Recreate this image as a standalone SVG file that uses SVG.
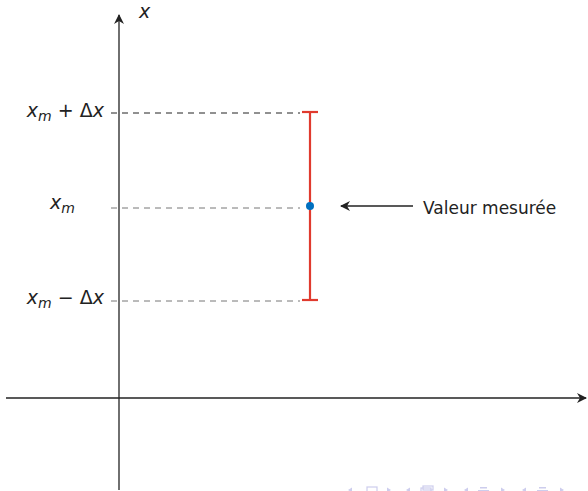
<svg xmlns="http://www.w3.org/2000/svg" width="588" height="491" viewBox="0 0 588 491">
<defs>
<marker id="ah" viewBox="0 0 10 10" refX="9" refY="5" markerWidth="10" markerHeight="10" markerUnits="userSpaceOnUse" orient="auto">
<path d="M0,0 L10,5 L0,10 L3,5 Z" fill="#222"/>
</marker>
<style>
.ax{stroke:#222;stroke-width:1.3;fill:none}
.dash{stroke-width:1;stroke-dasharray:6,5;fill:none}
.lbl{font-family:"DejaVu Sans","Liberation Sans",sans-serif;font-size:17px;fill:#222}
.m{font-size:19px}
.it{font-style:italic}
.nav{fill:#c8c8ec;stroke:none}
</style>
</defs>
<g id="connectors">
<line class="ax" x1="119" y1="490" x2="119" y2="15" marker-end="url(#ah)"/>
<line class="ax" x1="6" y1="398" x2="586" y2="398" marker-end="url(#ah)"/>
<line class="dash" stroke="#222" x1="111" y1="113" x2="300" y2="113"/>
<line class="dash" stroke="#777" x1="111" y1="208" x2="300" y2="208"/>
<line class="dash" stroke="#777" x1="111" y1="301" x2="300" y2="301"/>
<line class="ax" x1="413" y1="206" x2="341" y2="206" stroke-width="1.1" marker-end="url(#ah)"/>
</g>
<g id="errorbar">
<line x1="310" y1="112" x2="310" y2="301" stroke="#e03a2e" stroke-width="2.2"/>
<line x1="302" y1="112" x2="318" y2="112" stroke="#e03a2e" stroke-width="2.2"/>
<line x1="302" y1="300" x2="318" y2="300" stroke="#e03a2e" stroke-width="2.2"/>
</g>
<g id="point"><circle cx="310" cy="206" r="4" fill="#0070c0"/></g>
<g id="labels">
<text class="lbl m it" x="139" y="18">x</text>
<text class="lbl m" x="104" y="117" text-anchor="end"><tspan class="it">x</tspan><tspan class="it" font-size="14" dy="4">m</tspan><tspan dy="-4"> + Δ</tspan><tspan class="it">x</tspan></text>
<text class="lbl m" x="50" y="209"><tspan class="it">x</tspan><tspan class="it" font-size="14" dy="4">m</tspan></text>
<text class="lbl m" x="104" y="304" text-anchor="end"><tspan class="it">x</tspan><tspan class="it" font-size="14" dy="4">m</tspan><tspan dy="-4"> − Δ</tspan><tspan class="it">x</tspan></text>
<text class="lbl" x="423" y="214">Valeur mesurée</text>
</g>
<g id="nav" opacity="0.9">
<path class="nav" d="M348,490 l4,-2.5 v5 z"/>
<rect x="367" y="487" width="10" height="5" fill="none" stroke="#c8c8ec" stroke-width="1.2"/>
<path class="nav" d="M391,490 l-4,-2.5 v5 z"/>
<path class="nav" d="M406,490 l4,-2.5 v5 z"/>
<rect x="421" y="488" width="10" height="4" fill="none" stroke="#c8c8ec" stroke-width="1.2"/>
<rect x="423" y="486" width="10" height="4" fill="none" stroke="#c8c8ec" stroke-width="1.2"/>
<path class="nav" d="M448,490 l-4,-2.5 v5 z"/>
<path class="nav" d="M464,490 l4,-2.5 v5 z"/>
<rect class="nav" x="480" y="487" width="7" height="1.5"/>
<rect class="nav" x="478" y="490" width="11" height="2"/>
<path class="nav" d="M505,490 l-4,-2.5 v5 z"/>
<path class="nav" d="M522,490 l4,-2.5 v5 z"/>
<rect class="nav" x="539" y="487" width="7" height="1.5"/>
<rect class="nav" x="537" y="490" width="11" height="2"/>
<path class="nav" d="M564,490 l-4,-2.5 v5 z"/>
</g>
</svg>
